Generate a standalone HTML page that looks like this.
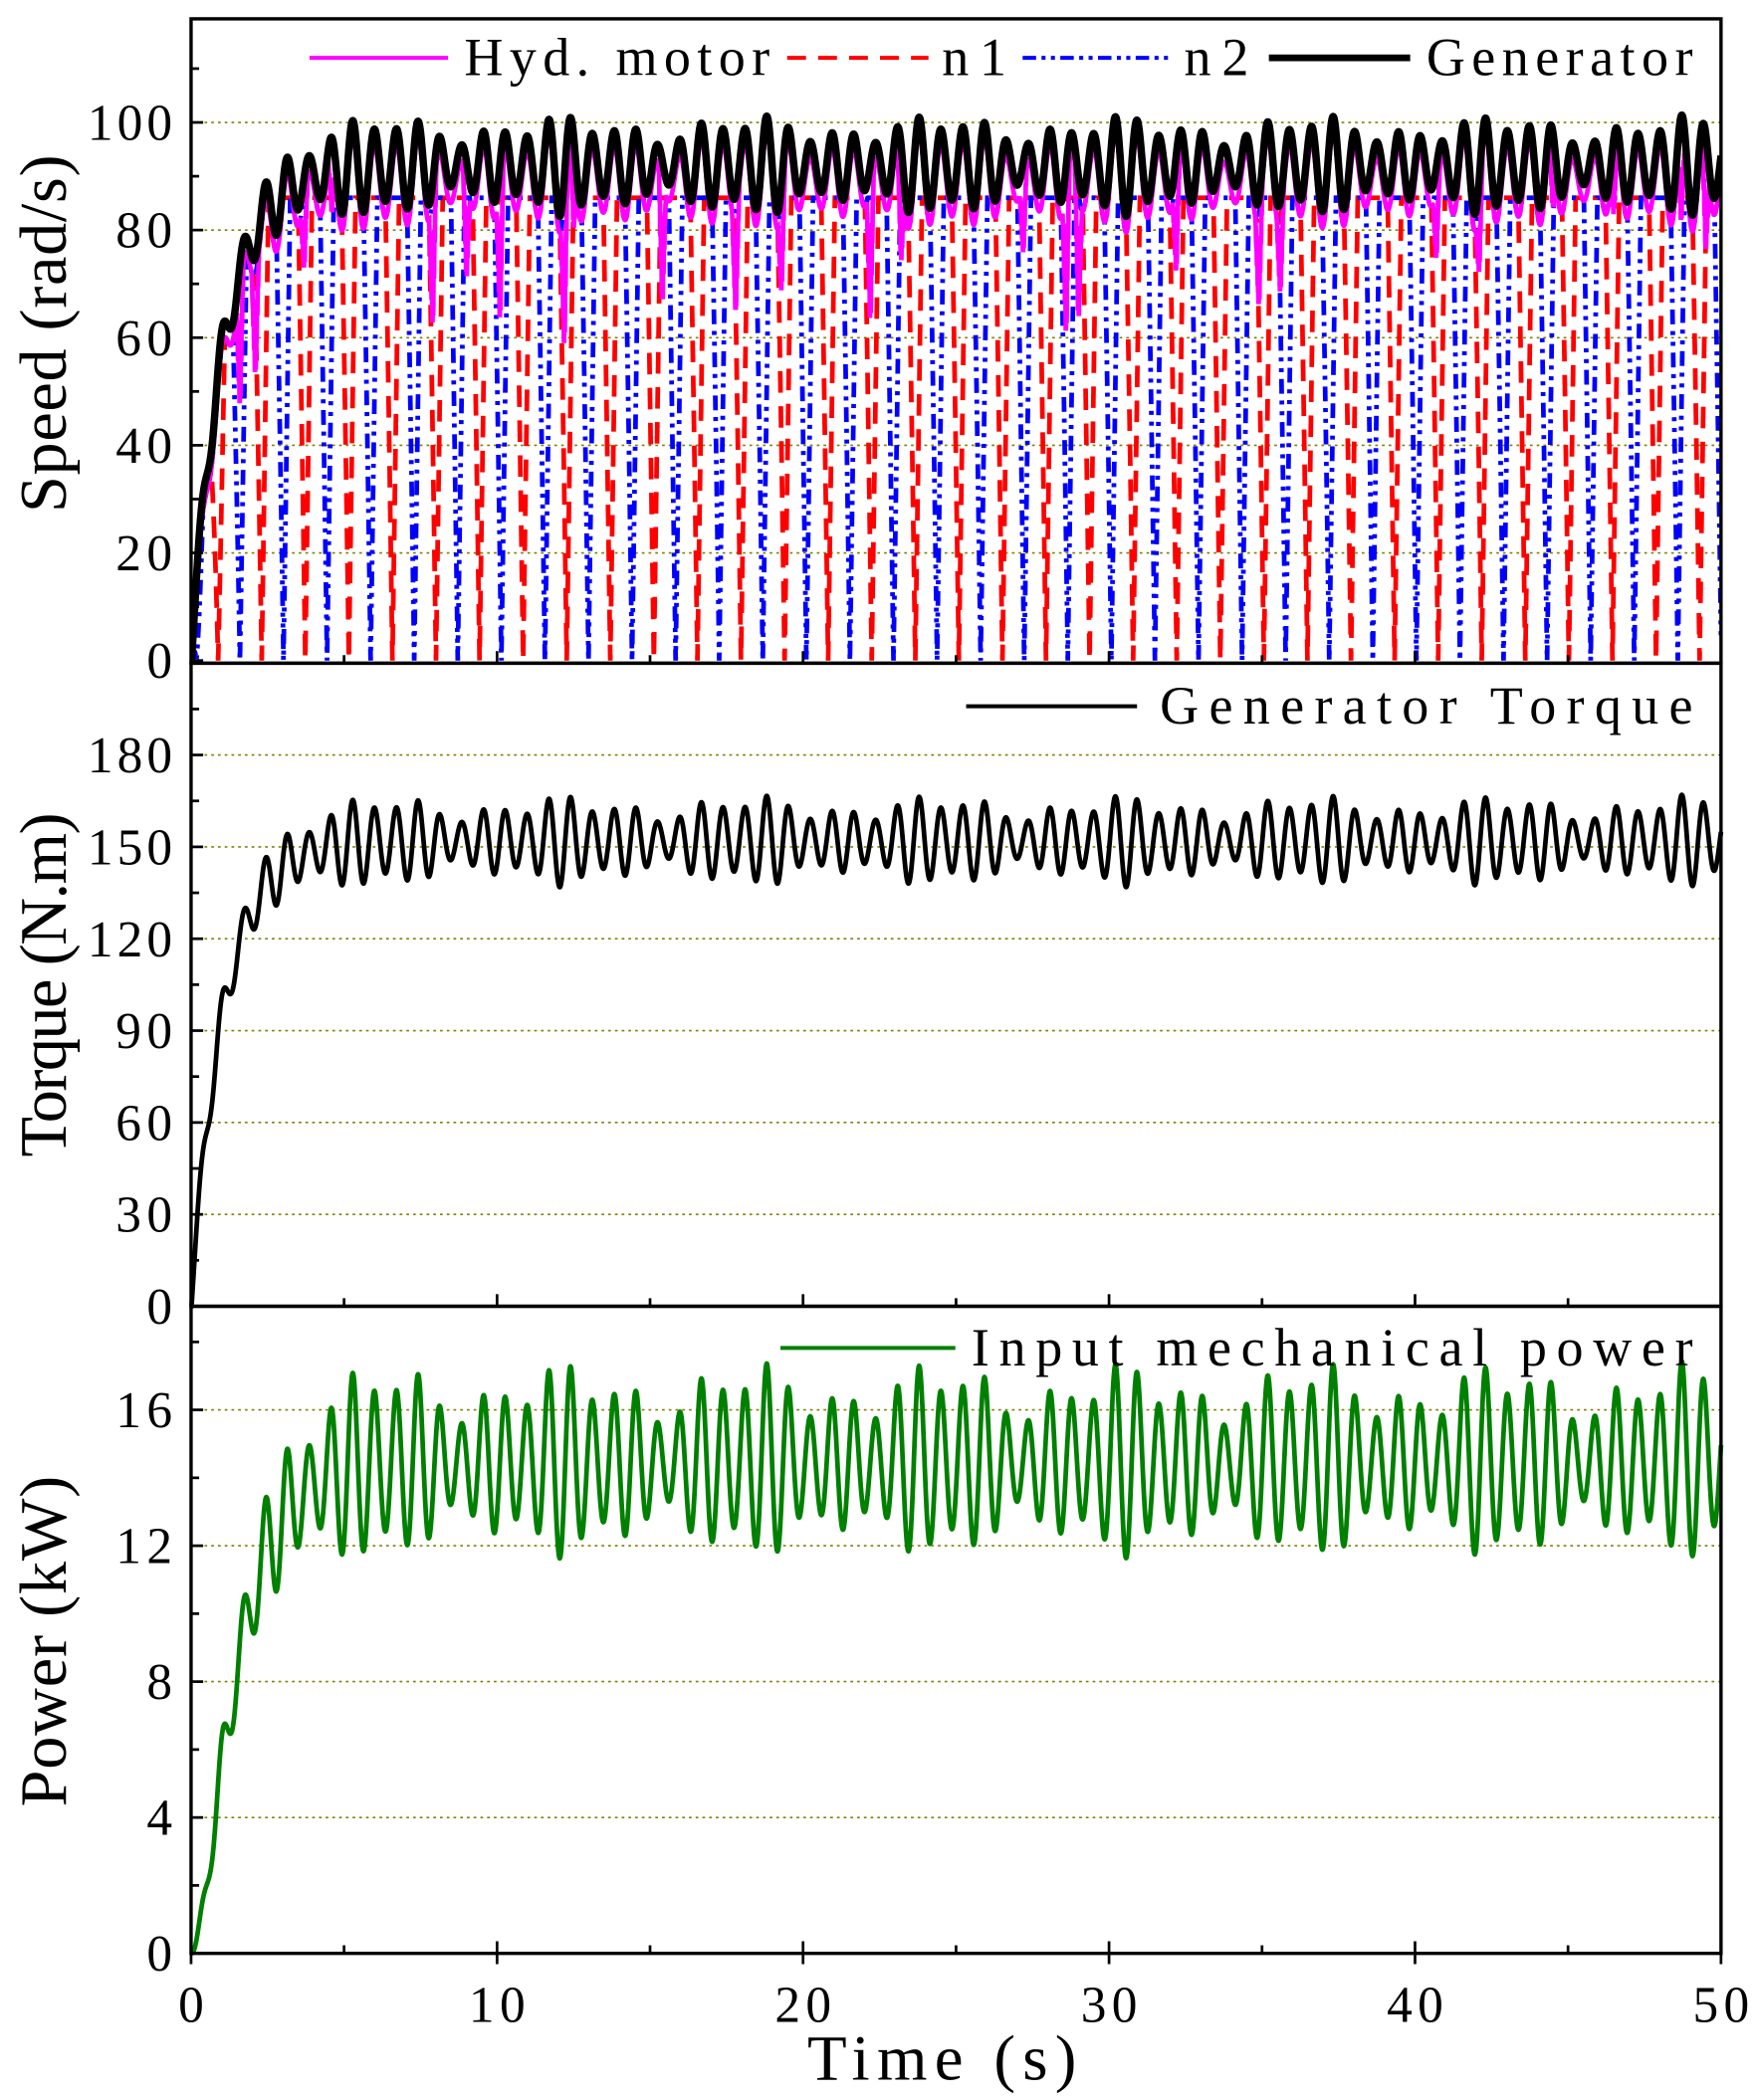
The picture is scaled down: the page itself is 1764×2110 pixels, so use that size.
<!DOCTYPE html>
<html><head><meta charset="utf-8"><style>
html,body{margin:0;padding:0;background:#fff;}
svg{display:block;}
text{font-family:"Liberation Serif",serif;fill:#000;}
</style></head><body>
<svg id="s" xmlns="http://www.w3.org/2000/svg" width="1764" height="2110" viewBox="0 0 1305 1561" preserveAspectRatio="none">
<g id="grid" stroke="#808000" stroke-width="1.2" stroke-dasharray="2 3"></g>
<g id="data"></g>
<g id="axes" stroke="#000" fill="none"></g>
<g id="labels" font-size="38"></g>
<line x1="230" y1="43" x2="333" y2="43" stroke="#ff00ff" stroke-width="3"/>
<text x="345" y="56" font-size="40" textLength="227" lengthAdjust="spacing">Hyd. motor</text>
<line x1="585" y1="43" x2="690" y2="43" stroke="#ff0000" stroke-width="3" stroke-dasharray="14 9"/>
<text x="700" y="56" font-size="40" textLength="48" lengthAdjust="spacing">n1</text>
<line x1="760" y1="43" x2="870" y2="43" stroke="#0000ff" stroke-width="3" stroke-dasharray="10 4 3 4 3 4"/>
<text x="880" y="56" font-size="40" textLength="48" lengthAdjust="spacing">n2</text>
<line x1="943" y1="43" x2="1048" y2="43" stroke="#000" stroke-width="5"/>
<text x="1060" y="56" font-size="40" textLength="198" lengthAdjust="spacing">Generator</text>
<line x1="718" y1="525" x2="845" y2="525" stroke="#000" stroke-width="3"/>
<text x="862" y="538" font-size="40" textLength="396" lengthAdjust="spacing">Generator Torque</text>
<line x1="580" y1="1002" x2="710" y2="1002" stroke="#008000" stroke-width="3"/>
<text x="722" y="1015" font-size="40" textLength="536" lengthAdjust="spacing">Input mechanical power</text>
<text transform="translate(49,248) rotate(-90)" text-anchor="middle" font-size="49" textLength="266" lengthAdjust="spacing">Speed (rad/s)</text>
<text transform="translate(49,732) rotate(-90)" text-anchor="middle" font-size="49" textLength="256" lengthAdjust="spacing">Torque (N.m)</text>
<text transform="translate(49,1220) rotate(-90)" text-anchor="middle" font-size="49" textLength="246" lengthAdjust="spacing">Power (kW)</text>
<text x="700" y="1546" text-anchor="middle" font-size="48" textLength="200" lengthAdjust="spacing">Time (s)</text>
</svg>
<script>
(function(){
var NS="http://www.w3.org/2000/svg";
function el(p,n,a){var e=document.createElementNS(NS,n);for(var k in a)e.setAttribute(k,a[k]);p.appendChild(e);return e;}
var X0=142,X1=1279;function xs(t){return X0+t*(X1-X0)/50;}
var grid=document.getElementById('grid'),axes=document.getElementById('axes'),lab=document.getElementById('labels'),data=document.getElementById('data');
var P=[{top:14,bot:493,y0:491,k:4,step:20,max:100,minor:10},
       {top:493,bot:971,y0:971,k:68.3/30,step:30,max:180,minor:15},
       {top:971,bot:1452,y0:1452,k:101/4,step:4,max:16,minor:2}];
P.forEach(function(p){
  el(axes,'rect',{x:X0,y:p.top,width:X1-X0,height:p.bot-p.top,'stroke-width':2.5});
  for(var v=0;v<=p.max+1e-9;v+=p.step){var y=p.y0-v*p.k;
    if(v>0)el(grid,'line',{x1:X0,x2:X1,y1:y,y2:y});
    el(axes,'line',{x1:X0,x2:X0+9,y1:y,y2:y,'stroke-width':2});
    var s=String(Math.round(v));
    var t=el(lab,'text',{x:X0-14,y:y+13,'text-anchor':'end',textLength:s.length*21,lengthAdjust:'spacing'});t.textContent=s;}
  for(var v=p.minor;p.y0-v*p.k>p.top+3;v+=p.step){var y=p.y0-v*p.k;el(axes,'line',{x1:X0,x2:X0+6,y1:y,y2:y,'stroke-width':2});}
  for(var t=0;t<=50;t+=5){var x=xs(t);var L=(t%10==0)?9:6;
    el(axes,'line',{x1:x,x2:x,y1:p.bot,y2:p.bot-L,'stroke-width':2});}
});
for(var t=0;t<=50;t+=10){var x=xs(t);el(axes,'line',{x1:x,x2:x,y1:1452,y2:1460,'stroke-width':2});
  var s=String(t);var e=el(lab,'text',{x:x,y:1503,'text-anchor':'middle',textLength:s.length*21,lengthAdjust:'spacing'});e.textContent=s;}
function base(t){return 92*(1-Math.exp(-t/1.05));}
function amp(t){var a=5+3*(0.5+0.5*Math.cos(2*Math.PI*t/6.1))+1.5*Math.sin(2*Math.PI*t/2.3);return Math.max(3,a)*Math.min(1,t/2.5+0.2);}
var Per=0.712;
function g(t){return Math.max(0,base(t)+amp(t)*Math.cos(2*Math.PI*(t-0.3)/Per));}
function tq(t){var b=152*(1-Math.exp(-t/1.05));return Math.max(0,b+amp(t)*1.6*Math.cos(2*Math.PI*(t-0.3)/Per));}
var dips=[[1.6,25],[2.1,20],[3.7,15],[4.6,12],[7.9,25],[9.0,20],[10.1,28],[12.2,30],[12.5,15],[15.4,25],[17.8,20],[19.3,18],[22.2,28],[23.2,20],[27.2,15],[28.6,30],[29,25],[32.2,20],[34.9,18],[35.6,15],[40.7,15],[42.1,15],[44.5,12],[46.5,12],[48.7,18],[49.5,20]];
function m(t){var v=g(t)-3;for(var i=0;i<dips.length;i++){var d=t-dips[i][0];if(Math.abs(d)<0.12)v-=dips[i][1]*(1-Math.abs(d)/0.12)*(0.6+0.4*Math.abs(Math.sin(d*120)));}return Math.max(0,v);}
var NP=2*Per;
function n(t,ph){var ph2=((t-ph)%NP+NP)%NP;var d=Math.min(ph2,NP-ph2);var w=0.22;
  var top=Math.min(g(t)-3,86*Math.min(1,t/1.6+0.1));var f=Math.min(1,d/w);return Math.max(0,top*f);}
function path(f,sx,dt){var d='';dt=dt||0.004;for(var t=0;t<=50.0001;t+=dt){var py=sx(f(t));d+=(t==0?'M':'L')+xs(t).toFixed(2)+' '+py.toFixed(2);}return d;}
var sy1=function(v){return 491-v*4;},sy2=function(v){return 971-v*68.3/30;},sy3=function(v){return 1452-v*101/4;};
var cp=el(data,'clipPath',{id:'c1'});el(cp,'rect',{x:X0,y:14,width:X1-X0,height:479});
var g1=el(data,'g',{'clip-path':'url(#c1)',fill:'none'});
el(g1,'path',{d:path(function(t){return n(t,13.7);},sy1,0.002),stroke:'#ff0000','stroke-width':3.5,'stroke-dasharray':'16 10'});
el(g1,'path',{d:path(function(t){return n(t,13.7+Per);},sy1,0.002),stroke:'#0000ff','stroke-width':3.5,'stroke-dasharray':'11 5 3 5 3 5'});
el(g1,'path',{d:path(m,sy1),stroke:'#ff00ff','stroke-width':3.5});
el(g1,'path',{d:path(g,sy1),stroke:'#000','stroke-width':5.5});
el(data,'path',{d:path(tq,sy2),stroke:'#000','stroke-width':3.5,fill:'none'});
el(data,'path',{d:path(function(t){return g(t)*tq(t)/1000*1.03;},sy3),stroke:'#008000','stroke-width':3.5,fill:'none'});
})();
</script>
</body></html>
